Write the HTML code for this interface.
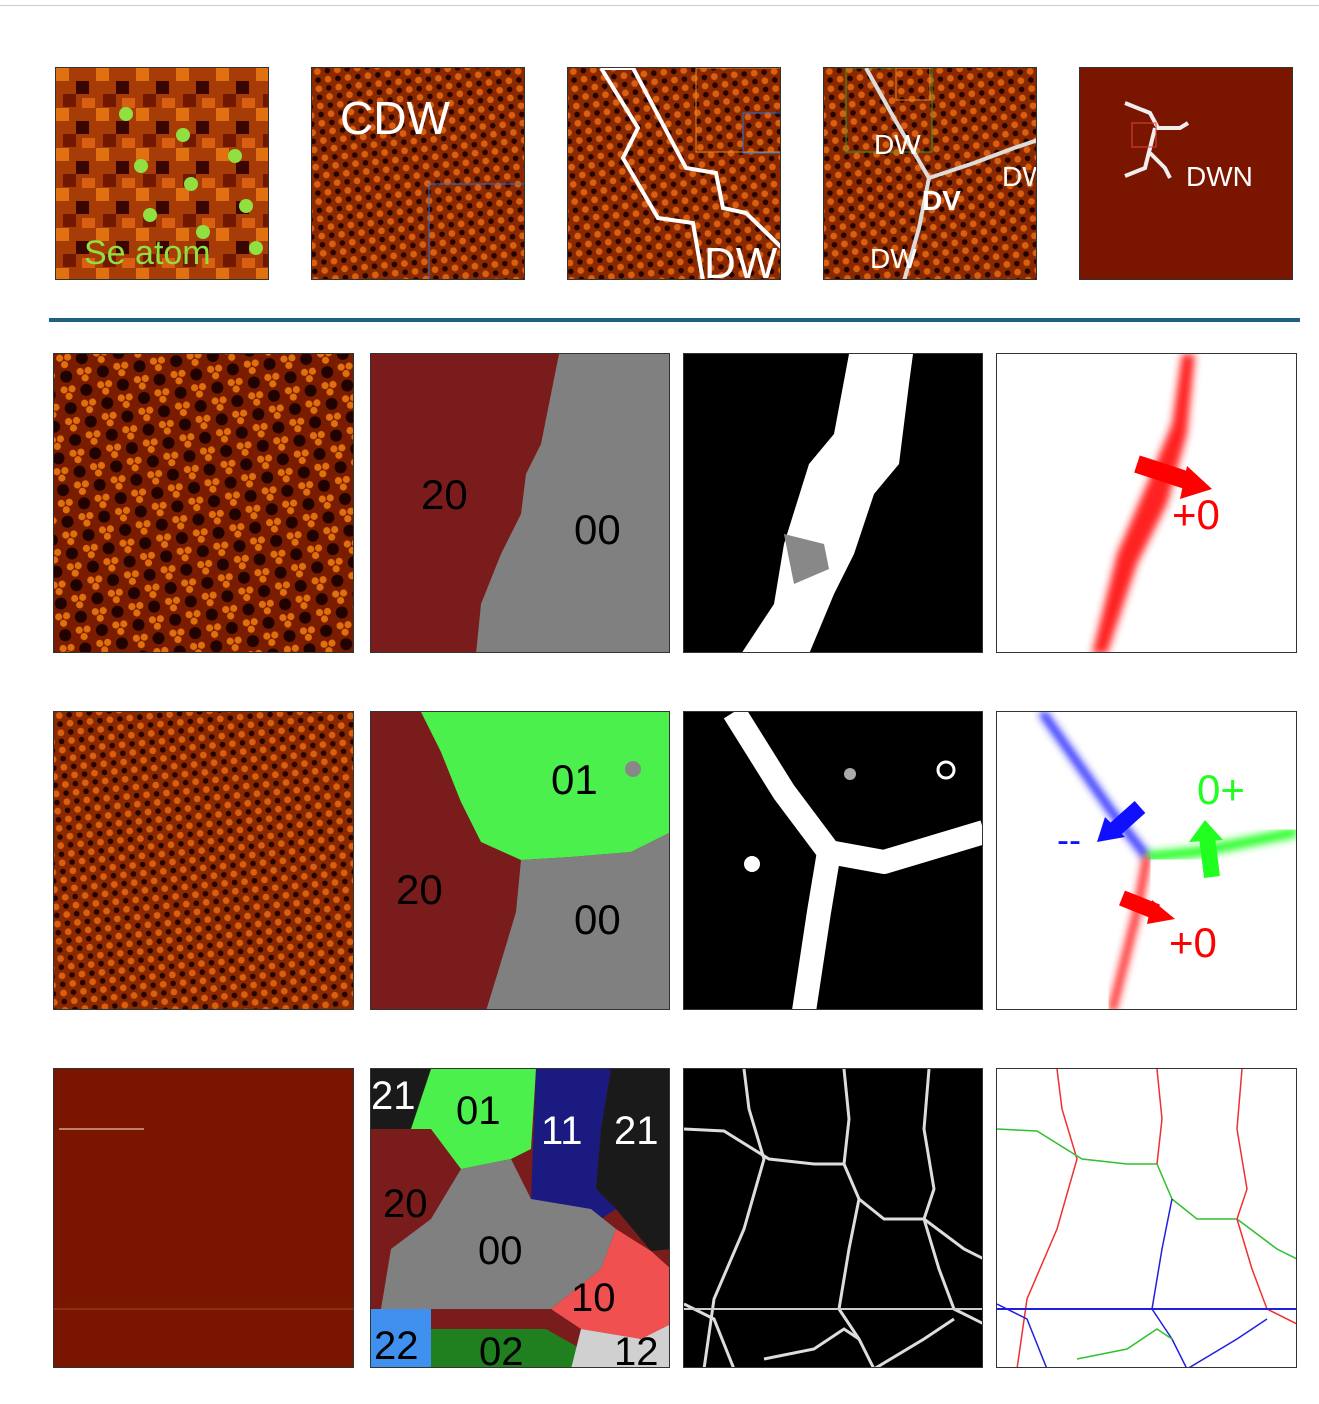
<!DOCTYPE html>
<html><head><meta charset="utf-8"><style>
body{margin:0;width:1319px;height:1404px;background:#fff;position:relative;overflow:hidden;font-family:"Liberation Sans",sans-serif}
.p{position:absolute;border:1px solid #333;box-sizing:border-box;overflow:hidden}
svg{display:block}
.lbl{font-family:"Liberation Sans",sans-serif;font-size:42px}
</style></head><body>
<div style="position:absolute;left:0;top:5px;width:1319px;height:1px;background:#ccc"></div>
<svg width="0" height="0" style="position:absolute"><defs>
<pattern id="cdw" width="37" height="32" patternUnits="userSpaceOnUse" patternTransform="rotate(-8)">
<rect width="37" height="32" fill="#7a1c00"/>
<g fill="#e0700e"><circle cx="5" cy="5" r="3.6"/><circle cx="13" cy="5" r="3.6"/><circle cx="9" cy="12" r="3.6"/>
<circle cx="23.5" cy="21" r="3.6"/><circle cx="31.5" cy="21" r="3.6"/><circle cx="27.5" cy="28" r="3.6"/></g>
<circle cx="27" cy="8" r="6" fill="#200200"/><circle cx="9" cy="24" r="6" fill="#200200"/></pattern>
<pattern id="cdw2" width="20" height="17.3" patternUnits="userSpaceOnUse" patternTransform="rotate(-5)">
<rect width="20" height="17.3" fill="#8a2800"/>
<circle cx="5" cy="4" r="3.4" fill="#d86010"/><circle cx="15" cy="12.6" r="3.4" fill="#d86010"/>
<circle cx="15" cy="4" r="2.8" fill="#250300"/><circle cx="5" cy="12.6" r="2.8" fill="#250300"/></pattern>
<pattern id="pix" width="40" height="40" patternUnits="userSpaceOnUse">
<rect width="40" height="40" fill="#a83c06"/><rect width="13" height="13" fill="#e07010"/><rect x="20" y="13" width="13" height="13" fill="#3a0600"/><rect x="7" y="26" width="13" height="13" fill="#701800"/><rect x="26" y="30" width="13" height="10" fill="#d86010"/></pattern>
<filter id="blur"><feGaussianBlur stdDeviation="4"/></filter>
</defs></svg>

<div class="p" style="left:55px;top:67px;width:214px;height:213px">
<svg width="214" height="213"><rect width="214" height="213" fill="url(#pix)"/>
<g fill="#8fe040"><circle cx="70" cy="46" r="7"/><circle cx="127" cy="67" r="7"/><circle cx="85" cy="98" r="7"/><circle cx="179" cy="88" r="7"/><circle cx="135" cy="116" r="7"/><circle cx="190" cy="138" r="7"/><circle cx="94" cy="147" r="7"/><circle cx="147" cy="164" r="7"/><circle cx="200" cy="180" r="7"/></g>
<text x="28" y="196" font-size="34" fill="#8fe040" font-family="Liberation Sans">Se atom</text></svg></div>
<div class="p" style="left:311px;top:67px;width:214px;height:213px">
<svg width="214" height="213"><rect width="214" height="213" fill="url(#cdw2)"/><rect x="117" y="116" width="100" height="100" fill="none" stroke="#3070d0"/>
<text x="28" y="66" font-size="46" fill="#fff" font-family="Liberation Sans">CDW</text></svg></div>
<div class="p" style="left:567px;top:67px;width:214px;height:213px">
<svg width="214" height="213"><rect width="214" height="213" fill="url(#cdw2)"/>
<rect x="128" y="0" width="90" height="84" fill="none" stroke="#e08a20"/><rect x="175" y="45" width="40" height="40" fill="none" stroke="#3070d0"/>
<polyline points="33,0 65,0 118,100 148,105 155,140 178,145 214,180" fill="none" stroke="#fff" stroke-width="4"/>
<polyline points="33,0 70,60 55,90 90,150 125,155 135,213" fill="none" stroke="#fff" stroke-width="4"/>
<text x="136" y="210" font-size="44" fill="#fff" font-family="Liberation Sans">DW</text></svg></div>
<div class="p" style="left:823px;top:67px;width:214px;height:213px">
<svg width="214" height="213"><rect width="214" height="213" fill="url(#cdw2)"/>
<rect x="22" y="0" width="86" height="84" fill="none" stroke="#30a030"/><rect x="72" y="0" width="34" height="32" fill="none" stroke="#e08a20"/>
<g fill="none" stroke="#ddd" stroke-width="4"><polyline points="42,0 70,50 105,110"/><polyline points="105,110 150,95 190,80 214,72"/><polyline points="105,110 95,160 80,213"/></g>
<g font-family="Liberation Sans" fill="#fff" font-size="28"><text x="50" y="86">DW</text><text x="178" y="118">DW</text><text x="98" y="142" font-weight="bold">DV</text><text x="46" y="200">DW</text></g></svg></div>
<div class="p" style="left:1079px;top:67px;width:214px;height:213px">
<svg width="214" height="213"><rect width="214" height="213" fill="#7a1600"/>
<g fill="none" stroke="#eee" stroke-width="4"><polyline points="45,35 70,45 78,60 100,60 108,55"/><polyline points="75,60 70,80 65,100 45,108"/><polyline points="70,85 85,100 90,110"/></g>
<rect x="52" y="55" width="24" height="24" fill="none" stroke="#e04040"/>
<text x="106" y="118" font-size="28" fill="#fff" font-family="Liberation Sans">DWN</text></svg></div>

<div style="position:absolute;left:49px;top:318px;width:1251px;height:4px;background:#1f5f80"></div>

<div class="p" style="left:53px;top:353px;width:301px;height:300px"><svg width="301" height="300"><rect width="301" height="300" fill="url(#cdw)"/></svg></div>
<div class="p" style="left:370px;top:353px;width:300px;height:300px"><svg width="300" height="300">
<rect width="300" height="300" fill="#7a1c1c"/><polygon points="188,0 300,0 300,300 105,300 110,250 130,200 150,160 155,120 170,90 180,40" fill="#808080"/>
<text class="lbl" x="50" y="155">20</text><text class="lbl" x="203" y="190">00</text></svg></div>
<div class="p" style="left:683px;top:353px;width:300px;height:300px"><svg width="300" height="300">
<rect width="300" height="300" fill="#000"/><polygon points="165,0 229,0 225,30 215,110 190,140 170,200 150,240 125,300 57,300 90,250 100,190 125,110 150,80" fill="#fff"/>
<polygon points="100,180 140,190 145,215 110,230" fill="#888"/></svg></div>
<div class="p" style="left:996px;top:353px;width:301px;height:300px"><svg width="301" height="300">
<polygon points="185,0 198,0 190,80 170,150 140,210 110,300 95,300 120,200 150,130 175,70" fill="#ff2020" filter="url(#blur)"/>
<line x1="140" y1="110" x2="195" y2="128" stroke="#f00" stroke-width="18"/><polygon points="190,112 215,135 183,145" fill="#f00"/>
<text class="lbl" x="175" y="175" fill="#f00">+0</text></svg></div>

<div class="p" style="left:53px;top:711px;width:301px;height:299px"><svg width="301" height="299"><rect width="301" height="299" fill="url(#cdw2)"/></svg></div>
<div class="p" style="left:370px;top:711px;width:300px;height:299px"><svg width="300" height="299">
<rect width="300" height="299" fill="#7a1c1c"/>
<polygon points="50,0 300,0 300,120 260,140 200,145 150,148 110,130 90,90 70,40" fill="#4cf04c"/>
<polygon points="150,148 200,145 260,140 300,120 300,299 115,299 130,250 145,200" fill="#808080"/>
<circle cx="262" cy="57" r="8" fill="#888"/>
<text class="lbl" x="180" y="82">01</text><text class="lbl" x="25" y="192">20</text><text class="lbl" x="203" y="222">00</text></svg></div>
<div class="p" style="left:683px;top:711px;width:300px;height:299px"><svg width="300" height="299">
<rect width="300" height="299" fill="#000"/>
<g fill="none" stroke="#fff" stroke-width="24" stroke-linejoin="round"><polyline points="50,0 100,80 145,140 200,150 250,135 300,120"/><polyline points="145,140 135,200 120,299"/></g>
<circle cx="68" cy="152" r="8" fill="#fff"/><circle cx="166" cy="62" r="6" fill="#aaa"/><circle cx="262" cy="58" r="8" fill="none" stroke="#fff" stroke-width="3"/></svg></div>
<div class="p" style="left:996px;top:711px;width:301px;height:299px"><svg width="301" height="299">
<polyline points="45,0 80,50 115,100 150,145" fill="none" stroke="#2020ff" stroke-width="8" filter="url(#blur)"/>
<polyline points="150,145 200,140 250,130 300,120" fill="none" stroke="#20ff20" stroke-width="10" filter="url(#blur)"/>
<polyline points="150,145 140,200 115,299" fill="none" stroke="#ff2020" stroke-width="8" filter="url(#blur)"/>
<line x1="143" y1="95" x2="115" y2="120" stroke="#1010ff" stroke-width="16"/><polygon points="100,130 108,105 128,125" fill="#1010ff"/>
<line x1="215" y1="165" x2="210" y2="125" stroke="#20ff20" stroke-width="16"/><polygon points="208,108 192,130 226,128" fill="#20ff20"/>
<line x1="125" y1="186" x2="160" y2="200" stroke="#f00" stroke-width="16"/><polygon points="178,207 155,188 150,212" fill="#f00"/>
<text x="60" y="140" font-size="36" fill="#1010ff" font-family="Liberation Sans">--</text>
<text class="lbl" x="200" y="92" fill="#20ff20">0+</text><text class="lbl" x="172" y="245" fill="#f00">+0</text></svg></div>

<div class="p" style="left:53px;top:1068px;width:301px;height:300px"><svg width="301" height="300"><rect width="301" height="300" fill="#7a1600"/>
<line x1="5" y1="60" x2="90" y2="60" stroke="#c08070" stroke-width="2"/><line x1="0" y1="240" x2="301" y2="240" stroke="#8a3010" stroke-width="2"/></svg></div>
<div class="p" style="left:370px;top:1068px;width:300px;height:300px"><svg width="300" height="300">
<rect width="300" height="300" fill="#7a1c1c"/>
<polygon points="0,0 60,0 40,60 0,60" fill="#1a1a1a"/>
<polygon points="60,0 165,0 160,80 140,90 90,100 60,60 40,60" fill="#4cf04c"/>
<polygon points="165,0 240,0 230,60 225,120 245,140 230,150 180,135 160,130" fill="#1a1a80"/>
<polygon points="240,0 300,0 300,180 280,182 245,140 225,120 230,60" fill="#1a1a1a"/>
<polygon points="90,100 140,90 160,130 220,140 245,160 230,200 180,240 180,240 10,240 20,180 60,150" fill="#808080"/>
<polygon points="245,160 280,182 300,200 300,255 270,270 210,260 180,240 230,200" fill="#f05050"/>
<polygon points="0,240 60,240 60,300 0,300" fill="#4090f0"/>
<polygon points="60,260 175,260 210,280 200,300 60,300" fill="#208020"/>
<polygon points="210,260 270,270 300,255 300,300 200,300" fill="#d0d0d0"/>
<g font-family="Liberation Sans" font-size="40"><text x="0" y="40" fill="#fff">21</text><text x="85" y="55">01</text><text x="170" y="75" fill="#fff">11</text><text x="243" y="75" fill="#fff">21</text>
<text x="12" y="148">20</text><text x="107" y="195">00</text><text x="200" y="242">10</text><text x="3" y="290">22</text><text x="108" y="296">02</text><text x="243" y="296">12</text></g></svg></div>
<div class="p" style="left:683px;top:1068px;width:300px;height:300px"><svg width="300" height="300" id="net1"><rect width="300" height="300" fill="#000"/></svg></div>
<div class="p" style="left:996px;top:1068px;width:301px;height:300px"><svg width="301" height="300" id="net2"><rect width="301" height="300" fill="#fff"/></svg></div>

<script>
const wallPaths=[
"60,0 65,40 80,90 60,160 30,230 20,300",
"0,60 40,62 85,90 130,95 160,95 175,130 200,150 240,150 280,180 300,190",
"160,0 165,50 160,95",
"245,0 240,60 250,120 240,150",
"175,130 165,180 155,240 175,270 190,300",
"0,235 30,250 50,300",
"80,290 130,280 160,260 175,270",
"240,150 255,200 270,240 300,255",
"190,300 240,270 270,250"];
const wallColors=["#f03030","#30c030","#f03030","#f03030","#2020e0","#2020e0","#30c030","#f03030","#2020e0"];
const ns="http://www.w3.org/2000/svg";
const n1=document.getElementById('net1'),n2=document.getElementById('net2');
wallPaths.forEach((p,i)=>{
 const a=document.createElementNS(ns,'polyline');a.setAttribute('points',p);a.setAttribute('fill','none');a.setAttribute('stroke','#ddd');a.setAttribute('stroke-width','3');
 
 
 n1.appendChild(a);
 const b=document.createElementNS(ns,'polyline');b.setAttribute('points',p);b.setAttribute('fill','none');b.setAttribute('stroke',wallColors[i]);b.setAttribute('stroke-width','1.5');
 
 
 n2.appendChild(b);
});
[n1,n2].forEach((s,k)=>{const l=document.createElementNS(ns,'line');l.setAttribute('x1',0);l.setAttribute('x2',300);l.setAttribute('y1',240);l.setAttribute('y2',240);l.setAttribute('stroke',k?'#2020e0':'#ccc');l.setAttribute('stroke-width',2);
 
 
 s.appendChild(l);});
</script>
</body></html>
